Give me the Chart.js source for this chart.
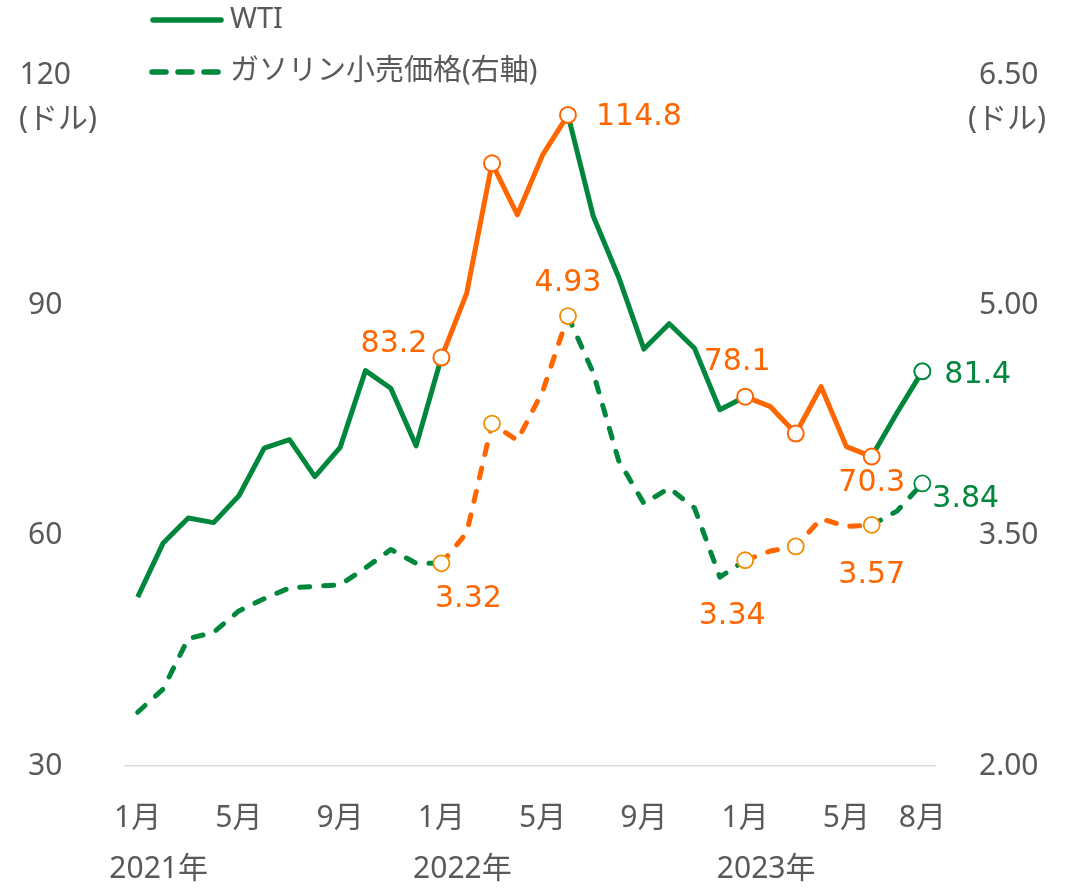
<!DOCTYPE html>
<html>
<head>
<meta charset="utf-8">
<script src="https://cdn.jsdelivr.net/npm/chart.js@4.4.0/dist/chart.umd.min.js"></script>
<style>
  html, body { margin: 0; padding: 0; background: #fff; }
  #wrap { width: 1068px; height: 888px; }
</style>
</head>
<body>
<div id="wrap"><canvas id="chart" width="1068" height="888"></canvas></div>
<script>
// months Jan 2021 .. Aug 2023
const months = [
  '2021/1', '2021/2', '2021/3', '2021/4', '2021/5', '2021/6', '2021/7', '2021/8', '2021/9', '2021/10', '2021/11', '2021/12',
  '2022/1', '2022/2', '2022/3', '2022/4', '2022/5', '2022/6', '2022/7', '2022/8', '2022/9', '2022/10', '2022/11', '2022/12',
  '2023/1', '2023/2', '2023/3', '2023/4', '2023/5', '2023/6', '2023/7', '2023/8'
];
const monthTicks = { 0: '1月', 4: '5月', 8: '9月', 12: '1月', 16: '5月', 20: '9月', 24: '1月', 28: '5月', 31: '8月' };
const yearTicks = { 0: '2021年', 12: '2022年', 24: '2023年' };

const wti = [52.0, 59.0, 62.3, 61.7, 65.2, 71.4, 72.5, 67.7, 71.5, 81.5, 79.2, 71.7,
  83.2, 91.6, 108.5, 101.8, 109.6, 114.8, 101.6, 93.7, 84.3, 87.6, 84.4, 76.4,
  78.1, 76.8, 73.3, 79.4, 71.6, 70.3, 76.0, 81.4];
const gasoline = [2.35, 2.50, 2.83, 2.87, 3.01, 3.09, 3.16, 3.17, 3.18, 3.29, 3.41, 3.32,
  3.32, 3.52, 4.23, 4.12, 4.44, 4.93, 4.56, 3.99, 3.71, 3.81, 3.68, 3.23,
  3.34, 3.40, 3.43, 3.61, 3.56, 3.57, 3.66, 3.84];

const leftTicks = [30, 60, 90, 120];
const rightTicks = [2.0, 3.5, 5.0, 6.5];

// highlighted periods (start index, end index)
const orangeRuns = [[12, 17], [24, 29]];
const markerIdx = [12, 14, 17, 24, 26, 29, 31];

const GREEN = '#00873C';
const ORANGE = '#FF6600';
const AMBER = '#F28C00';
const GRAY = '#595959';
const JP = "'Noto Sans', 'Noto Sans CJK JP', sans-serif";

const inOrange = i => orangeRuns.some(r => i >= r[0] && i < r[1]);

// where the value labels go, relative to their point
const wtiLabels = [
  { i: 12, dx: -14, dy: -13, align: 'right' },
  { i: 17, dx: 28, dy: 2, align: 'left' },
  { i: 24, dx: -8, dy: -34, align: 'center' },
  { i: 29, dx: 0, dy: 27, align: 'center' },
  { i: 31, dx: 22, dy: 4, align: 'left' },
];
const gasLabels = [
  { i: 12, dx: 27, dy: 36, align: 'center' },
  { i: 17, dx: 0, dy: -33, align: 'center' },
  { i: 24, dx: -13, dy: 56, align: 'center' },
  { i: 29, dx: 0, dy: 50, align: 'center' },
  { i: 31, dx: 10, dy: 16, align: 'left' },
];

const extras = {
  id: 'extras',
  afterDatasetsDraw(chart) {
    const ctx = chart.ctx;
    const x = chart.scales.x, y = chart.scales.y, y2 = chart.scales.y2;
    ctx.save();

    // value labels
    ctx.font = "30px 'DejaVu Sans', sans-serif";
    ctx.textBaseline = 'middle';
    wtiLabels.forEach(l => {
      ctx.fillStyle = l.i === 31 ? GREEN : ORANGE;
      ctx.textAlign = l.align;
      ctx.fillText(wti[l.i].toFixed(1), x.getPixelForValue(l.i) + l.dx, y.getPixelForValue(wti[l.i]) + l.dy);
    });
    gasLabels.forEach(l => {
      ctx.fillStyle = l.i === 31 ? GREEN : ORANGE;
      ctx.textAlign = l.align;
      ctx.fillText(gasoline[l.i].toFixed(2), x.getPixelForValue(l.i) + l.dx, y2.getPixelForValue(gasoline[l.i]) + l.dy);
    });

    // unit labels under the top ticks
    ctx.font = '30px ' + JP;
    ctx.fillStyle = GRAY;
    ctx.textAlign = 'center';
    ctx.fillText('(ドル)', 58, y.getPixelForValue(120) + 44);
    ctx.fillText('(ドル)', 1007, y2.getPixelForValue(6.5) + 44);

    // year row under the month ticks
    Object.keys(yearTicks).forEach(k => {
      ctx.fillText(yearTicks[k], x.getPixelForValue(+k) + 21, 869);
    });

    // legend
    ctx.strokeStyle = GREEN;
    ctx.lineWidth = 5.5;
    ctx.lineCap = 'round';
    ctx.beginPath();
    ctx.moveTo(153, 20); ctx.lineTo(221, 20);
    ctx.stroke();
    ctx.setLineDash([14, 12]);
    ctx.beginPath();
    ctx.moveTo(152, 72); ctx.lineTo(218, 72);
    ctx.stroke();
    ctx.setLineDash([]);
    ctx.textAlign = 'left';
    ctx.font = '29px ' + JP;
    ctx.fillText('WTI', 230, 20);
    ctx.fillText('ガソリン小売価格(右軸)', 230, 72);

    ctx.restore();
  }
};

new Chart(document.getElementById('chart'), {
  type: 'line',
  data: {
    labels: months,
    datasets: [
      {
        label: 'ガソリン小売価格(右軸)',
        data: gasoline,
        yAxisID: 'y2',
        borderColor: GREEN,
        borderWidth: 5,
        borderDash: [10, 14],
        borderCapStyle: 'round',
        borderJoinStyle: 'round',
        tension: 0,
        segment: {
          borderColor: c => inOrange(c.p0DataIndex) ? ORANGE : GREEN,
        },
        pointRadius: c => markerIdx.includes(c.dataIndex) ? 8 : 0,
        pointHoverRadius: c => markerIdx.includes(c.dataIndex) ? 8 : 0,
        pointBackgroundColor: '#fff',
        pointBorderColor: c => c.dataIndex === 31 ? GREEN : AMBER,
        pointBorderWidth: 1.8,
      },
      {
        label: 'WTI',
        data: wti,
        yAxisID: 'y',
        borderColor: GREEN,
        borderWidth: 5,
        borderJoinStyle: 'round',
        tension: 0,
        segment: {
          borderColor: c => inOrange(c.p0DataIndex) ? ORANGE : GREEN,
        },
        pointRadius: c => markerIdx.includes(c.dataIndex) ? 8 : 0,
        pointHoverRadius: c => markerIdx.includes(c.dataIndex) ? 8 : 0,
        pointBackgroundColor: '#fff',
        pointBorderColor: c => c.dataIndex === 31 ? GREEN : ORANGE,
        pointBorderWidth: 2,
      },
    ],
  },
  options: {
    responsive: false,
    animation: false,
    events: [],
    layout: { padding: { top: 75, left: 0, right: 0, bottom: 0 } },
    plugins: {
      legend: { display: false },
      tooltip: { enabled: false },
    },
    scales: {
      x: {
        offset: true,
        grid: { display: false },
        border: { display: true, color: '#D9D9D9', width: 1.5 },
        ticks: {
          autoSkip: false,
          maxRotation: 0,
          padding: 26,
          color: GRAY,
          font: { family: JP, size: 30 },
          callback: (v, i) => monthTicks[i] || '',
        },
        afterFit: s => { s.height = 122; },
      },
      y: {
        position: 'left',
        min: 30,
        max: 120,
        grid: { display: false },
        border: { display: false },
        afterBuildTicks: s => { s.ticks = leftTicks.map(v => ({ value: v })); },
        ticks: {
          crossAlign: 'center',
          padding: 46,
          color: GRAY,
          font: { family: JP, size: 30 },
        },
        afterFit: s => { s.width = 125; },
      },
      y2: {
        position: 'right',
        min: 2,
        max: 6.5,
        grid: { display: false },
        border: { display: false },
        afterBuildTicks: s => { s.ticks = rightTicks.map(v => ({ value: v })); },
        ticks: {
          crossAlign: 'center',
          padding: 36,
          color: GRAY,
          font: { family: JP, size: 30 },
          callback: v => Number(v).toFixed(2),
        },
        afterFit: s => { s.width = 133; },
      },
    },
  },
  plugins: [extras],
});
</script>
</body>
</html>
